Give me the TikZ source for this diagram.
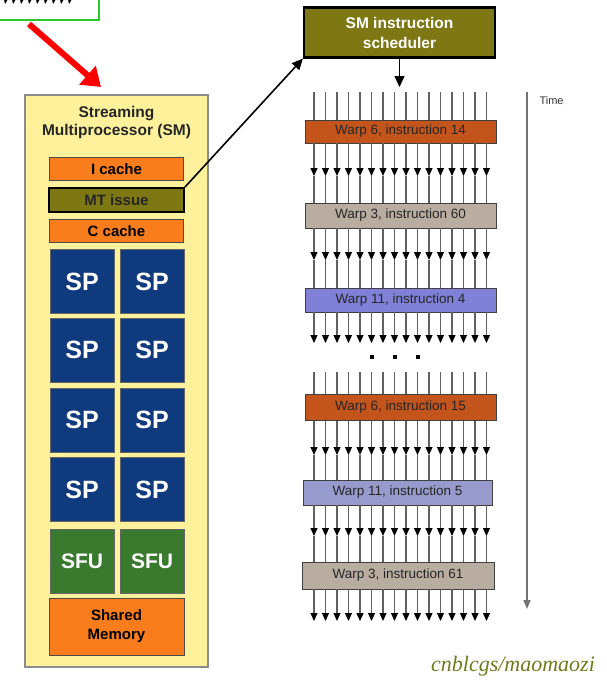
\documentclass[tikz,border=0pt]{standalone}
\usepackage{fontspec}
\setmainfont{Liberation Sans}
\newfontfamily\wmfont{Liberation Serif}
\usetikzlibrary{arrows.meta}
\definecolor{smyellow}{HTML}{FDF29B}
\definecolor{cacheorange}{HTML}{F97D1C}
\definecolor{olivebox}{HTML}{7D7714}
\definecolor{spblue}{HTML}{0F3A7E}
\definecolor{sfugreen}{HTML}{3A7A2E}
\definecolor{warprust}{HTML}{C2541C}
\definecolor{warpgray}{HTML}{B8ADA0}
\definecolor{warpblue}{HTML}{7F80D6}
\definecolor{warpblue2}{HTML}{979ACC}
\definecolor{lanegray}{HTML}{606060}
\definecolor{wmgreen}{HTML}{6E7B1E}
\definecolor{boxgreen}{HTML}{2DC82D}
\begin{document}
\begin{tikzpicture}[x=1pt,y=-1pt,
  box/.style={draw, inner sep=0pt, align=center, anchor=center},
  cachebox/.style={box, fill=cacheorange, draw=black!70, line width=0.8pt, font=\bfseries\fontsize{15}{17}\selectfont},
  unitbox/.style={box, draw=black!60, line width=0.6pt, text=white, minimum width=64pt, minimum height=64pt},
  spbox/.style={unitbox, fill=spblue, font=\bfseries\fontsize{25}{27}\selectfont},
  sfubox/.style={unitbox, fill=sfugreen, font=\bfseries\fontsize{21}{23}\selectfont},
  warpbar/.style={box, draw=black!75, line width=0.7pt, font=\fontsize{13.5}{15}\selectfont, text=black!85},
  lane/.style={draw=lanegray, line width=1.1pt},
  lanearrow/.style={lane, -{Triangle[length=8pt,width=7pt,color=black]}}
]
\useasboundingbox (0,0) rectangle (607,681);

% partial green box top-left
\node[box, draw=boxgreen, line width=2.5pt, fill=white, minimum width=110pt, minimum height=30pt] (gbox) at (44,5) {};
\foreach \i in {0,...,8} {
  \fill[black] (4+8*\i,-1) -- (8+8*\i,-1) -- (5+8*\i,4) -- cycle;
}
% red arrow
\coordinate (rs) at (29,24);
\coordinate (re) at (101,87);
\draw[draw=red, line width=6pt, -{Triangle[length=18pt,width=24pt]}, red] (rs) -- (re);

% SM box
\node[box, fill=smyellow, draw=black!45, line width=1.2pt, minimum width=183pt, minimum height=572pt] (sm) at (116.5,381) {};
\node[font=\bfseries\fontsize{15.5}{18}\selectfont, align=center, text=black!85] (smtitle) at (116.5,122) {Streaming\\Multiprocessor (SM)};
\node[cachebox, minimum width=134pt, minimum height=23pt] (icache) at (116.5,169) {I cache};
\node[box, fill=olivebox, draw=black, line width=2pt, minimum width=135pt, minimum height=24pt, font=\bfseries\fontsize{15}{17}\selectfont, text=black!85] (mt) at (116.5,200) {MT issue};
\node[cachebox, minimum width=134pt, minimum height=23pt] (ccache) at (116.5,231) {C cache};
\node[spbox] (sp1) at (82,281.5) {SP};
\node[spbox] (sp2) at (152,281.5) {SP};
\node[spbox] (sp3) at (82,350) {SP};
\node[spbox] (sp4) at (152,350) {SP};
\node[spbox] (sp5) at (82,420) {SP};
\node[spbox] (sp6) at (152,420) {SP};
\node[spbox] (sp7) at (82,489.5) {SP};
\node[spbox] (sp8) at (152,489.5) {SP};
\node[sfubox] (sfu1) at (82,561) {SFU};
\node[sfubox] (sfu2) at (152,561) {SFU};
\node[cachebox, minimum width=135pt, minimum height=57pt, font=\bfseries\fontsize{15}{19}\selectfont] (shared) at (116.5,626.5) {Shared\\Memory};

% scheduler
\node[box, fill=olivebox, draw=black, line width=2.2pt, minimum width=191pt, minimum height=50pt, text=white, font=\bfseries\fontsize{15.5}{20}\selectfont] (sched) at (399.5,32.5) {SM instruction\\scheduler};
\draw[line width=1.6pt, -{Triangle[length=11pt,width=10pt]}] (mt.north east) -- (sched.south west);
\coordinate (schedend) at (sched.south |- 0,87);
\draw[line width=1.5pt, -{Triangle[length=11pt,width=10pt]}] (sched.south) -- (schedend);

% warp bars
\node[warpbar, fill=warprust, minimum width=191pt, minimum height=23pt] (w1) at (400.5,131.5) {Warp 6, instruction 14};
\node[warpbar, fill=warpgray, minimum width=191pt, minimum height=25pt] (w2) at (400.5,215.5) {Warp 3, instruction 60};
\node[warpbar, fill=warpblue, minimum width=191pt, minimum height=24pt] (w3) at (400.5,300) {Warp 11, instruction 4};
\node[warpbar, fill=warprust, minimum width=191pt, minimum height=26pt] (w4) at (400.5,407.5) {Warp 6, instruction 15};
\node[warpbar, fill=warpblue2, minimum width=189pt, minimum height=25pt] (w5) at (397.5,492.5) {Warp 11, instruction 5};
\node[warpbar, fill=warpgray, minimum width=192pt, minimum height=27pt] (w6) at (398,575.5) {Warp 3, instruction 61};

% lane rows
\coordinate (top0) at (0,92);
\coordinate (a1) at (0,176);
\coordinate (a2) at (0,260);
\coordinate (a3) at (0,343);
\coordinate (top4) at (0,372);
\coordinate (a4) at (0,455);
\coordinate (a5) at (0,536);
\coordinate (a6) at (0,621);

\foreach \i in {0,...,15} {
  \pgfmathsetmacro{\lx}{314+11.5*\i}
  \path[lane] (\lx,0 |- top0) -- (\lx,0 |- w1.north);
  \path[lanearrow] (\lx,0 |- w1.south) -- (\lx,0 |- a1);
  \path[lane] (\lx,0 |- a1) -- (\lx,0 |- w2.north);
  \path[lanearrow] (\lx,0 |- w2.south) -- (\lx,0 |- a2);
  \path[lane] (\lx,0 |- a2) -- (\lx,0 |- w3.north);
  \path[lanearrow] (\lx,0 |- w3.south) -- (\lx,0 |- a3);
  \path[lane] (\lx,0 |- top4) -- (\lx,0 |- w4.north);
  \path[lanearrow] (\lx,0 |- w4.south) -- (\lx,0 |- a4);
  \path[lane] (\lx,0 |- a4) -- (\lx,0 |- w5.north);
  \path[lanearrow] (\lx,0 |- w5.south) -- (\lx,0 |- a5);
  \path[lane] (\lx,0 |- a5) -- (\lx,0 |- w6.north);
  \path[lanearrow] (\lx,0 |- w6.south) -- (\lx,0 |- a6);
}
\foreach \i in {5,7,9} {
  \fill ({314+11.5*\i-2},355) rectangle ++(4,4);
}

% time axis
\coordinate (ts) at (527,92);
\coordinate (te) at (527,609);
\draw[draw=black!55, line width=1.6pt, -{Triangle[length=9pt,width=7pt]}] (ts) -- (te);
\node[anchor=west, font=\fontsize{11}{12}\selectfont, text=black!80] (time) at (536,101) {Time};

% watermark
\node[font=\wmfont\itshape\fontsize{22}{24}\selectfont, text=wmgreen] (wm) at (513,666) {cnblcgs/maomaozi};
\end{tikzpicture}
\end{document}
